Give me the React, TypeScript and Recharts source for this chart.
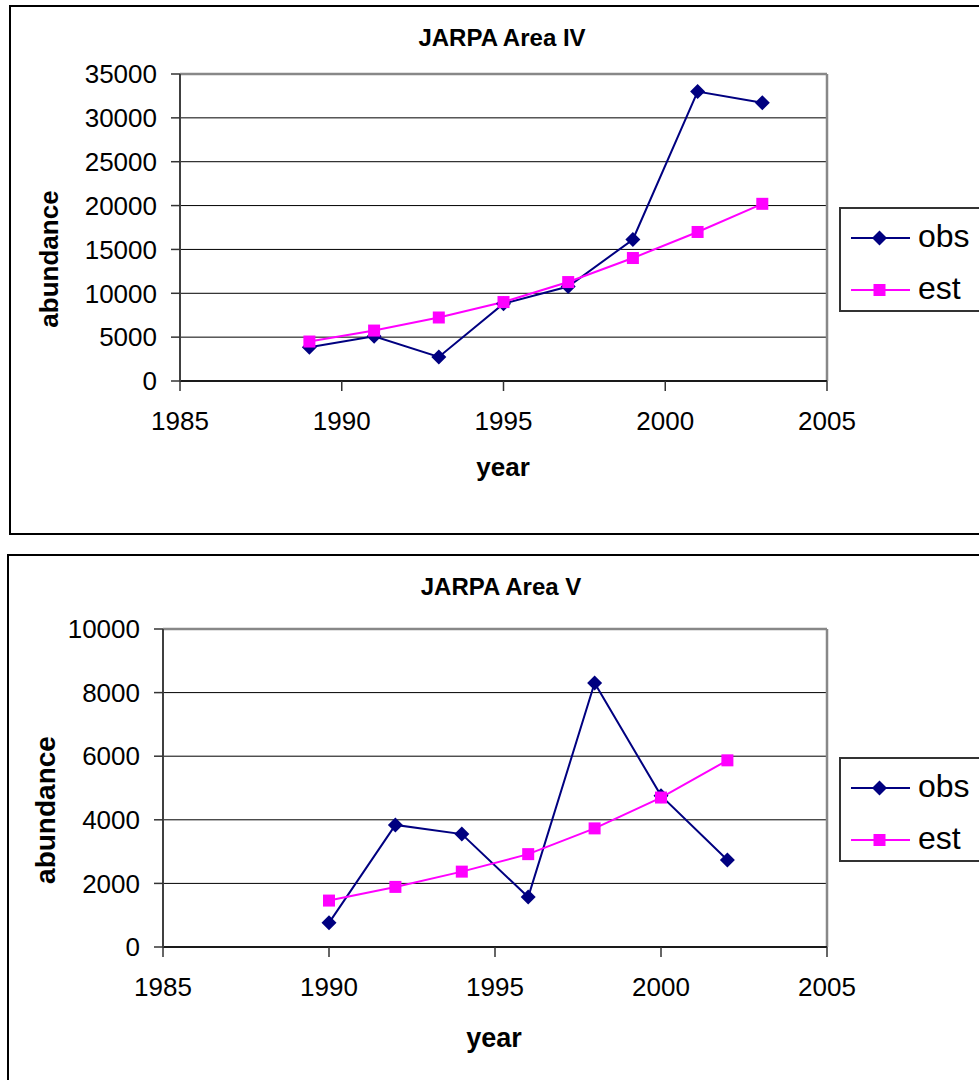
import { LineChart, Line, XAxis, YAxis, CartesianGrid, ReferenceLine, Legend } from 'recharts'

const FONT = '"Liberation Sans", Arial, sans-serif'
const NAVY = '#000080'
const MAGENTA = '#FF00FF'

// JARPA Area IV
const yearsIV = [1989, 1991, 1993, 1995, 1997, 1999, 2001, 2003]
const obsIV = [3850, 5090, 2740, 8810, 10770, 16130, 33000, 31710]
const estIV = [4500, 5750, 7240, 9000, 11280, 14020, 16990, 20200]
const yTicksIV = [0, 5000, 10000, 15000, 20000, 25000, 30000, 35000]

// JARPA Area V
const yearsV = [1990, 1992, 1994, 1996, 1998, 2000, 2002]
const obsV = [760, 3840, 3550, 1570, 8300, 4760, 2735]
const estV = [1460, 1890, 2370, 2920, 3730, 4700, 5870]
const yTicksV = [0, 2000, 4000, 6000, 8000, 10000]

const xTicks = [1985, 1990, 1995, 2000, 2005]

const dataIV = yearsIV.map((year, i) => ({ year, obs: obsIV[i], est: estIV[i] }))
const dataV = yearsV.map((year, i) => ({ year, obs: obsV[i], est: estV[i] }))

function diamondPath(cx: number, cy: number, r: number) {
    return `M${cx},${cy - r}L${cx + r},${cy}L${cx},${cy + r}L${cx - r},${cy}Z`
}

const Diamond = (props: any) => {
    const { cx, cy } = props
    if (cx == null || cy == null) return <g key={props.key} />
    return <path key={props.key} d={diamondPath(cx, cy, 7.5)} fill={NAVY} />
}

const Square = (props: any) => {
    const { cx, cy } = props
    if (cx == null || cy == null) return <g key={props.key} />
    return <rect key={props.key} x={cx - 6} y={cy - 6} width={12} height={12} fill={MAGENTA} />
}

const legendRows = [
    { name: 'obs', color: NAVY, shape: 'diamond' },
    { name: 'est', color: MAGENTA, shape: 'square' },
]

function LegendBox() {
    return (
        <div style={{ position: 'relative', width: '100%', height: '100%', fontFamily: FONT }}>
            {legendRows.map((r, i) => {
                const cy = 29 + i * 52
                return (
                    <div key={r.name}>
                        <svg width={60} height={20} style={{ position: 'absolute', left: 10, top: cy - 10 }}>
                            <line x1={0} x2={59} y1={10} y2={10} stroke={r.color} strokeWidth={2} />
                            {r.shape === 'diamond'
                                ? <path d={diamondPath(28.5, 10, 7.5)} fill={r.color} />
                                : <rect x={22.5} y={4} width={12} height={12} fill={r.color} />}
                        </svg>
                        <div style={{ position: 'absolute', left: 77, top: cy - 18, fontSize: 32, lineHeight: '32px', color: '#000' }}>
                            {r.name}
                        </div>
                    </div>
                )
            })}
        </div>
    )
}

type PanelProps = {
    data: { year: number; obs: number; est: number }[]
    yTicks: number[]
    yMax: number
    plotLeft: number
    plotTop: number
    plotBottom: number
    legendTop: number
}

function Panel({ data, yTicks, yMax, plotLeft, plotTop, plotBottom, legendTop }: PanelProps) {
    const W = 979
    const H = 540
    const xAxisH = 60
    const tickStyle = { fill: '#000', fontSize: 26, fontFamily: FONT }
    return (
        <LineChart
            width={W}
            height={H}
            data={data}
            margin={{ top: plotTop, right: W - 827, bottom: H - plotBottom - xAxisH, left: 0 }}
        >
            <CartesianGrid vertical={false} stroke='#000' strokeWidth={1} />
            <XAxis
                type='number'
                dataKey='year'
                domain={[1985, 2005]}
                ticks={xTicks}
                interval={0}
                height={xAxisH}
                tick={tickStyle}
                tickSize={10}
                tickMargin={21}
                axisLine={{ stroke: '#1a1a1a', strokeWidth: 2 }}
                tickLine={{ stroke: '#333', strokeWidth: 1.5 }}
            />
            <YAxis
                type='number'
                domain={[0, yMax]}
                ticks={yTicks}
                interval={0}
                width={plotLeft}
                tick={tickStyle}
                tickSize={9}
                tickMargin={14}
                axisLine={{ stroke: '#404040', strokeWidth: 2 }}
                tickLine={{ stroke: '#333', strokeWidth: 1.5 }}
            />
            <ReferenceLine y={yMax} stroke='#888' strokeWidth={2.5} />
            <ReferenceLine x={2005} stroke='#888' strokeWidth={2.5} />
            <Line dataKey='obs' name='obs' stroke={NAVY} strokeWidth={2} dot={Diamond} activeDot={false} isAnimationActive={false} />
            <Line dataKey='est' name='est' stroke={MAGENTA} strokeWidth={2} dot={Square} activeDot={false} isAnimationActive={false} />
            <Legend
                layout='vertical'
                align='center'
                verticalAlign='middle'
                content={() => <LegendBox />}
                wrapperStyle={{
                    left: 839,
                    top: legendTop,
                    width: 200,
                    height: 105,
                    border: '2px solid #333',
                    boxSizing: 'border-box',
                    background: '#fff',
                }}
            />
        </LineChart>
    )
}

const abs = (s: any) => ({ position: 'absolute' as const, ...s })

export default function App() {
    return (
        <div style={abs({ left: 0, top: 0, width: 979, height: 1080, overflow: 'hidden', background: '#fff', fontFamily: FONT, color: '#000' })}>
            <div style={abs({ left: 9, top: 5, width: 1100, height: 530, border: '2px solid #000', boxSizing: 'border-box' })} />
            <div style={abs({ left: 7, top: 554, width: 1100, height: 600, border: '2px solid #000', boxSizing: 'border-box' })} />

            <div style={abs({ left: 0, top: 0 })}>
                <Panel data={dataIV} yTicks={yTicksIV} yMax={35000} plotLeft={180} plotTop={74} plotBottom={381} legendTop={207} />
            </div>
            <div style={abs({ left: 0, top: 540 })}>
                <Panel data={dataV} yTicks={yTicksV} yMax={10000} plotLeft={163} plotTop={89} plotBottom={407} legendTop={217} />
            </div>

            <div style={abs({ left: 302, width: 400, top: 26, textAlign: 'center', fontSize: 24, lineHeight: '24px', fontWeight: 'bold' })}>JARPA Area IV</div>
            <div style={abs({ left: 301, width: 400, top: 575, textAlign: 'center', fontSize: 24, lineHeight: '24px', fontWeight: 'bold' })}>JARPA Area V</div>

            <div style={abs({ left: 403, width: 200, top: 454, textAlign: 'center', fontSize: 26, lineHeight: '26px', fontWeight: 'bold' })}>year</div>
            <div style={abs({ left: 394, width: 200, top: 1025, textAlign: 'center', fontSize: 27, lineHeight: '27px', fontWeight: 'bold' })}>year</div>

            <div style={abs({ left: 48.5 - 100, width: 200, top: 258.6 - 13, textAlign: 'center', fontSize: 26, lineHeight: '26px', fontWeight: 'bold', transform: 'rotate(-90deg)' })}>abundance</div>
            <div style={abs({ left: 45.8 - 100, width: 200, top: 809.8 - 14, textAlign: 'center', fontSize: 28, lineHeight: '28px', fontWeight: 'bold', transform: 'rotate(-90deg)' })}>abundance</div>
        </div>
    )
}
